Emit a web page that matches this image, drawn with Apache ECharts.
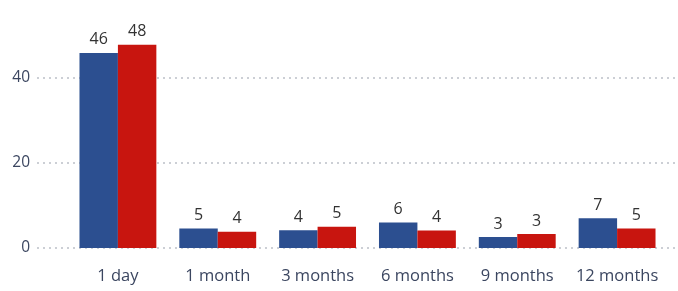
<!DOCTYPE html>
<html>
<head>
<meta charset="utf-8">
<style>
  html, body { margin: 0; padding: 0; background: #fff; }
  #chart { width: 678px; height: 291px; }
</style>
<script src="https://cdn.jsdelivr.net/npm/echarts@6/dist/echarts.min.js"></script>
</head>
<body>
<div id="chart"></div>
<script>
var categories = ['1 day', '1 month', '3 months', '6 months', '9 months', '12 months']
// bar heights; labels show them rounded
var seriesA = [45.9, 4.6, 4.2, 6.0, 2.6, 7.0]
var seriesB = [47.8, 3.8, 5.0, 4.1, 3.3, 4.6]
var yMin = 0
var yMax = 50
var yStep = 20

var fontFamily = '"Open Sans", "Noto Sans", sans-serif'
var chart = echarts.init(document.getElementById('chart'))

var barLabel = {
  show: true,
  position: 'top',
  distance: 5,
  color: '#333',
  fontSize: 16,
  fontFamily: fontFamily,
  formatter: function(p) { return Math.round(p.value) }
}

chart.setOption({
  animation: false,
  grid: [
    // wide grid that carries the dotted gridlines and y labels
    { left: 37, right: 0, top: 35.5, bottom: 43 },
    // inner grid that carries the bars
    { left: 68, right: 11, top: 35.5, bottom: 43 }
  ],
  xAxis: [
    { type: 'category', gridIndex: 0, data: categories, show: false },
    {
      type: 'category',
      gridIndex: 1,
      data: categories,
      axisLine: { show: false },
      axisTick: { show: false },
      axisLabel: { interval: 0, hideOverlap: false, color: '#3b4660', fontSize: 16.5, fontFamily: fontFamily, margin: 20 }
    }
  ],
  yAxis: [
    {
      type: 'value',
      gridIndex: 0,
      min: yMin,
      max: yMax,
      interval: yStep,
      axisLine: { show: false },
      axisTick: { show: false },
      axisLabel: { color: '#3b4660', fontSize: 15.5, fontFamily: fontFamily, margin: 7, showMaxLabel: false },
      splitLine: {
        lineStyle: { type: [2, 4], width: 1.5, color: ['#bcc0c8', '#bcc0c8', '#bcc0c8', 'rgba(0,0,0,0)'] }
      }
    },
    { type: 'value', gridIndex: 1, min: yMin, max: yMax, interval: yStep, show: false }
  ],
  series: [
    {
      type: 'bar',
      xAxisIndex: 1,
      yAxisIndex: 1,
      data: seriesA,
      barGap: '0%',
      barCategoryGap: '23%',
      itemStyle: { color: '#2c4f90' },
      label: barLabel
    },
    {
      type: 'bar',
      xAxisIndex: 1,
      yAxisIndex: 1,
      data: seriesB,
      barGap: '0%',
      barCategoryGap: '23%',
      itemStyle: { color: '#c8150f' },
      label: barLabel
    }
  ]
})
</script>
</body>
</html>
